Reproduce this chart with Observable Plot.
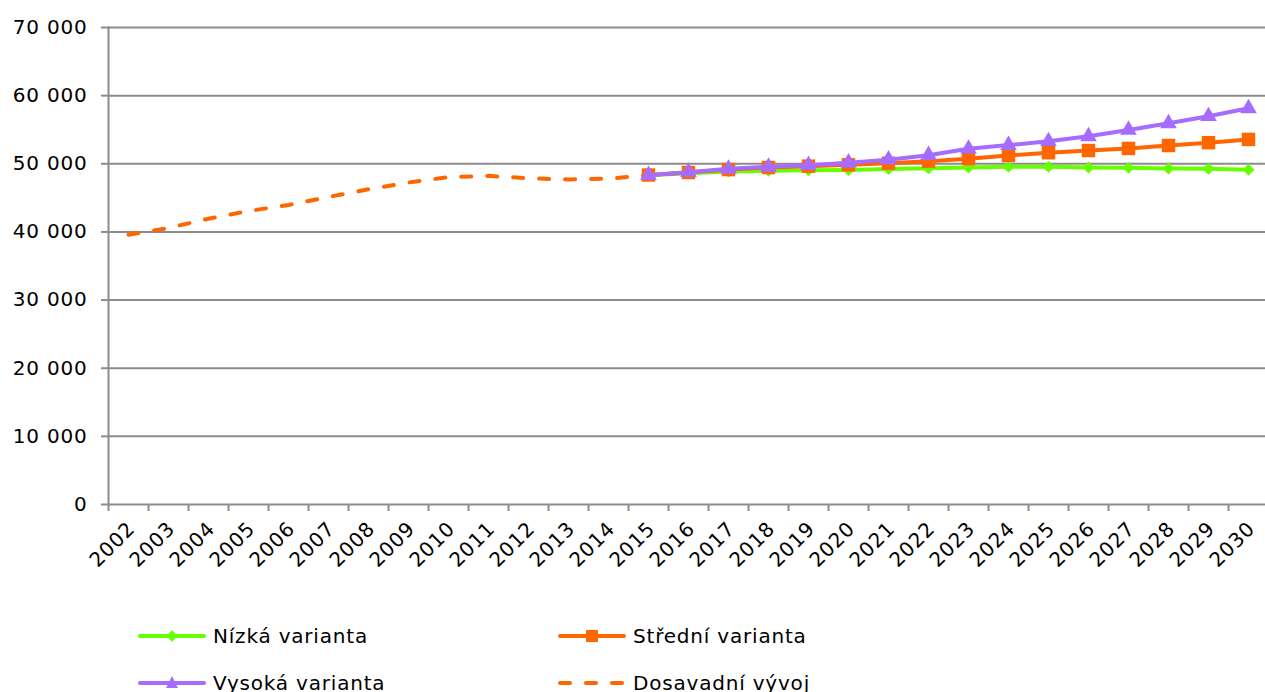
<!DOCTYPE html>
<html>
<head>
<meta charset="utf-8">
<script src="https://cdn.jsdelivr.net/npm/d3@7"></script>
<script src="https://cdn.jsdelivr.net/npm/@observablehq/plot@0.6"></script>
<style>
  html, body { margin: 0; padding: 0; background: #fff; }
  #wrap { position: relative; width: 1265px; height: 692px; overflow: hidden; font-family: "DejaVu Sans", Verdana, sans-serif; }
  .legend { position: absolute; left: 0; top: 600px; width: 1265px; font-size: 20px; letter-spacing: 0.8px; color: #000; }
  .item { position: absolute; display: flex; align-items: center; height: 30px; }
  .item svg { display: block; margin-right: 7px; }
</style>
</head>
<body>
<div id="wrap"><div id="chart"></div><div class="legend" id="legend"></div></div>
<script>
// ---- data ----
const years = [2002,2003,2004,2005,2006,2007,2008,2009,2010,2011,2012,2013,2014,2015,2016,2017,2018,2019,2020,2021,2022,2023,2024,2025,2026,2027,2028,2029,2030];
const histYears = [2002,2003,2004,2005,2006,2007,2008,2009,2010,2011,2012,2013,2014,2015];
const histValues = [39600,40580,41940,43070,43950,45130,46260,47250,48050,48230,47870,47700,47830,48300];
const projYears = [2015,2016,2017,2018,2019,2020,2021,2022,2023,2024,2025,2026,2027,2028,2029,2030];
const lowValues  = [48300,48600,48870,48970,49060,49100,49250,49330,49460,49550,49560,49450,49400,49300,49260,49120];
const midValues  = [48350,48720,49150,49450,49650,49850,50090,50380,50750,51220,51620,51950,52250,52680,53100,53580];
const highValues = [48330,48770,49260,49550,49800,50150,50600,51260,52200,52740,53300,54030,54960,55940,56970,58140];
const yTicks = [0,10000,20000,30000,40000,50000,60000,70000];
const seriesNames = ["Nízká varianta","Střední varianta","Vysoká varianta","Dosavadní vývoj"];
const colors = {low:"#66ff00", mid:"#ff6600", high:"#a66cff", hist:"#ff6600"};

const hist = histYears.map((y,i)=>({year:y, value:histValues[i]}));
const low  = projYears.map((y,i)=>({year:y, value:lowValues[i]}));
const mid  = projYears.map((y,i)=>({year:y, value:midValues[i]}));
const high = projYears.map((y,i)=>({year:y, value:highValues[i]}));
const boundaries = years.map(y => y - 0.5).concat([years[years.length-1] + 0.5]);

const grid = "#8c8c8c";
const fmt = d => d3.format(",")(d).replace(/,/g, " ");

const chart = Plot.plot({
  width: 1265,
  height: 600,
  marginLeft: 108,
  marginRight: 0,
  marginTop: 27,
  marginBottom: 96,
  style: {fontFamily: '"DejaVu Sans", Verdana, sans-serif', fontSize: "20px", letterSpacing: "0.8px", color: "#000", background: "#fff", overflow: "hidden"},
  x: {type: "linear", domain: [boundaries[0], boundaries[boundaries.length-1]], range: [108, 1268]},
  y: {domain: [0, 70000]},
  marks: [
    Plot.gridY(yTicks, {stroke: grid, strokeOpacity: 1, strokeWidth: 2}),
    Plot.frame({anchor: "left", stroke: grid, strokeWidth: 2}),
    Plot.axisY(yTicks, {tickSize: 7, tickPadding: 14, tickFormat: fmt, stroke: grid, strokeWidth: 2, fill: "#000", label: null}),
    Plot.axisX(boundaries, {tickSize: 7, tickFormat: () => "", stroke: grid, strokeWidth: 2, label: null}),
    Plot.axisX(years, {tickSize: 0, tickPadding: 21, tickRotate: -45, tickFormat: d => String(d), fill: "#000", dx: 3, label: null}),
    Plot.line(hist, {x: "year", y: "value", stroke: colors.hist, strokeWidth: 4, strokeDasharray: "10,16", strokeLinecap: "round"}),
    Plot.line(low, {x: "year", y: "value", stroke: colors.low, strokeWidth: 4}),
    Plot.dot(low, {x: "year", y: "value", symbol: "diamond2", r: 5.4, fill: colors.low, stroke: "none"}),
    Plot.line(mid, {x: "year", y: "value", stroke: colors.mid, strokeWidth: 4}),
    Plot.dot(mid, {x: "year", y: "value", symbol: "square", r: 7.6, fill: colors.mid, stroke: "none"}),
    Plot.line(high, {x: "year", y: "value", stroke: colors.high, strokeWidth: 4}),
    Plot.dot(high, {x: "year", y: "value", symbol: "triangle", r: 6.2, fill: colors.high, stroke: "none"})
  ]
});
document.getElementById("chart").appendChild(chart);

// ---- legend ----
const legendItems = [
  {name: seriesNames[0], color: colors.low, symbol: "diamond", left: 138, top: 21},
  {name: seriesNames[1], color: colors.mid, symbol: "square", left: 558, top: 21},
  {name: seriesNames[2], color: colors.high, symbol: "triangle", left: 138, top: 68},
  {name: seriesNames[3], color: colors.hist, symbol: "dash", left: 558, top: 68}
];
const legend = document.getElementById("legend");
for (const it of legendItems) {
  const div = document.createElement("div");
  div.className = "item";
  div.style.left = it.left + "px";
  div.style.top = it.top + "px";
  let sym = "";
  if (it.symbol === "diamond") sym = `<path d="M34,9 L39,15 L34,21 L29,15 Z" fill="${it.color}"/>`;
  if (it.symbol === "square") sym = `<rect x="28" y="9" width="12" height="12" fill="${it.color}"/>`;
  if (it.symbol === "triangle") sym = `<path d="M34,8 L40,20 L28,20 Z" fill="${it.color}"/>`;
  const line = it.symbol === "dash"
    ? `<line x1="2" y1="15" x2="66" y2="15" stroke="${it.color}" stroke-width="4" stroke-linecap="round" stroke-dasharray="10,16"/>`
    : `<line x1="2" y1="15" x2="66" y2="15" stroke="${it.color}" stroke-width="4" stroke-linecap="round"/>`;
  div.innerHTML = `<svg width="68" height="30">${line}${sym}</svg><span>${it.name}</span>`;
  legend.appendChild(div);
}
</script>
</body>
</html>
